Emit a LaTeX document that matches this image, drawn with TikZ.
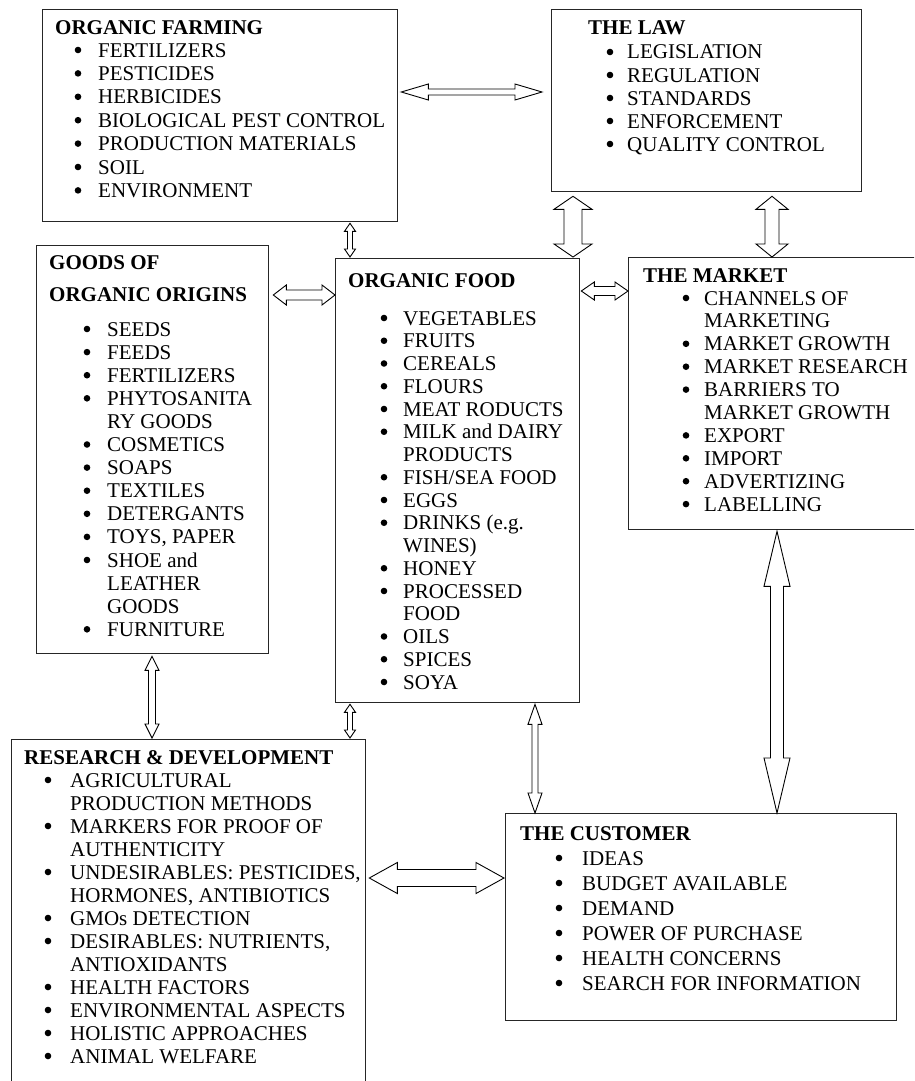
\documentclass[tikz,border=0pt]{standalone}
\usepackage{fontspec}
\setmainfont{Liberation Serif}
\usetikzlibrary{calc}
\tikzset{
  box/.style={draw=black!85, line width=1.3pt, rectangle, inner sep=0pt, anchor=north west},
  txt/.style={inner sep=0pt, anchor=base west, font=\fontsize{21}{23}\selectfont},
  ttl/.style={inner sep=0pt, anchor=base west, font=\fontsize{21}{23}\selectfont\bfseries},
  bul/.style={circle, fill=black, draw=none, inner sep=0pt, minimum size=6.6pt},
  arrowsty/.style={draw=black, fill=white, line width=0.9pt, line join=miter},
}
% double-headed hollow arrow: #1 start, #2 end, #3 half shaft, #4 half head, #5 head length
\newcommand\dblarr[5]{%
  \draw[arrowsty] let \p1=#1, \p2=#2,
    \n1={atan2(\y2-\y1,\x2-\x1)}, \n2={veclen(\x2-\x1,\y2-\y1)} in
    [shift={(\p1)}, rotate=\n1]
    (0pt,0pt) -- (#5pt,#4pt) -- (#5pt,#3pt) -- ({\n2-#5pt},#3pt) -- ({\n2-#5pt},#4pt)
    -- (\n2,0pt) -- ({\n2-#5pt},-#4pt) -- ({\n2-#5pt},-#3pt) -- (#5pt,-#3pt)
    -- (#5pt,-#4pt) -- cycle;}
% bullet list: #1 name prefix, #2 bullet centre x, #3 text x, #4 first baseline, #5 spacing, #6 items
\newcommand\blist[6]{%
  \foreach \fl/\tx [count=\i] in {#6} {
    \node[txt] (#1t\i) at (#3, {#4+(\i-1)*#5}) {\tx};
    \ifnum\fl=1 \node[bul] (#1b\i) at (#2, {#4+(\i-1)*#5-7}) {};\fi
  }}
\begin{document}
\begin{tikzpicture}[x=1pt,y=-1pt]
\useasboundingbox (0,0) rectangle (914,1081);
\clip (0,0) rectangle (914,1081);
\fill[white] (0,0) rectangle (914,1081);

% boxes
\node[box, minimum width=355pt, minimum height=212pt] (farm) at (42,9) {};
\node[box, minimum width=310pt, minimum height=182pt] (law) at (551,9) {};
\node[box, minimum width=232pt, minimum height=408pt] (goods) at (36,245) {};
\node[box, minimum width=244pt, minimum height=444pt] (food) at (335,258) {};
\node[box, minimum width=292pt, minimum height=272pt] (market) at (628,257) {};
\node[box, minimum width=354pt, minimum height=351pt] (rd) at (11,739) {};
\node[box, minimum width=391pt, minimum height=207pt] (cust) at (505,813) {};

% texts
\node[ttl] (farmT) at (55,35) {ORGANIC FARMING};
\blist{farm}{78}{98}{57}{23.4}{1/FERTILIZERS,1/PESTICIDES,1/HERBICIDES,1/BIOLOGICAL PEST CONTROL,1/PRODUCTION MATERIALS,1/SOIL,1/ENVIRONMENT}

\node[ttl] (lawT) at (588,35) {THE LAW};
\blist{law}{610}{627}{59}{23}{1/LEGISLATION,1/REGULATION,1/STANDARDS,1/ENFORCEMENT,1/QUALITY CONTROL}

\node[ttl] (goodsT1) at (49,269) {GOODS OF};
\node[ttl] (goodsT2) at (49,301) {ORGANIC ORIGINS};
\blist{goods}{87}{107}{336}{23.1}{1/SEEDS,1/FEEDS,1/FERTILIZERS,1/PHYTOSANITA,0/RY GOODS,1/COSMETICS,1/SOAPS,1/TEXTILES,1/DETERGANTS,1/{TOYS, PAPER},1/SHOE and,0/LEATHER,0/GOODS,1/FURNITURE}

\node[ttl] (foodT) at (348,287) {ORGANIC FOOD};
\blist{food}{384}{403}{325}{22.75}{1/VEGETABLES,1/FRUITS,1/CEREALS,1/FLOURS,1/MEAT RODUCTS,1/MILK and DAIRY,0/PRODUCTS,1/{FISH/SEA FOOD},1/EGGS,1/DRINKS (e.g.,0/WINES),1/HONEY,1/PROCESSED,0/FOOD,1/OILS,1/SPICES,1/SOYA}

\node[ttl] (marketT) at (643,282) {THE MARKET};
\blist{market}{686}{704}{305}{22.9}{1/CHANNELS OF,0/MARKETING,1/MARKET GROWTH,1/MARKET RESEARCH,1/BARRIERS TO,0/MARKET GROWTH,1/EXPORT,1/IMPORT,1/ADVERTIZING,1/LABELLING}

\node[ttl] (rdT) at (24,764) {RESEARCH \& DEVELOPMENT};
\blist{rd}{48}{70}{787}{23}{1/AGRICULTURAL,0/PRODUCTION METHODS,1/MARKERS FOR PROOF OF,0/AUTHENTICITY,1/{UNDESIRABLES: PESTICIDES,},0/{HORMONES, ANTIBIOTICS},1/GMOs DETECTION,1/{DESIRABLES: NUTRIENTS,},0/ANTIOXIDANTS,1/HEALTH FACTORS,1/ENVIRONMENTAL ASPECTS,1/HOLISTIC APPROACHES,1/ANIMAL WELFARE}

\node[ttl] (custT) at (520,840) {THE CUSTOMER};
\blist{cust}{559}{582}{865}{25}{1/IDEAS,1/BUDGET AVAILABLE,1/DEMAND,1/POWER OF PURCHASE,1/HEALTH CONCERNS,1/SEARCH FOR INFORMATION}

% connectors
\dblarr{($(farm.east |- 0,92)+(3,0)$)}{($(law.west |- 0,92)+(-9,0)$)}{3}{8}{27}
\dblarr{($(farm.south -| 350,0)+(0,1)$)}{($(food.north -| 350,0)+(0,-1)$)}{2.5}{5.5}{8}
\dblarr{($(law.south -| 573,0)+(0,4)$)}{($(food.north -| 573,0)+(0,-1)$)}{9}{19}{13}
\dblarr{($(law.south -| 772,0)+(0,4)$)}{(market.north -| 772,0)}{7}{16}{13}
\dblarr{($(goods.east |- 0,295)+(4,0)$)}{(food.west |- 0,295)}{5}{10}{13}
\dblarr{($(food.east |- 0,291)+(1,0)$)}{(market.west |- 0,291)}{4.5}{9}{13}
\dblarr{($(goods.south -| 152,0)+(0,2)$)}{($(rd.north -| 152,0)+(0,-1)$)}{3.5}{7}{14}
\dblarr{($(food.south -| 350,0)+(0,1)$)}{($(rd.north -| 350,0)+(0,-1)$)}{2.5}{5.5}{8}
\dblarr{($(food.south -| 535,0)+(0,1)$)}{(cust.north -| 535,0)}{3}{7}{20}
\dblarr{($(market.south -| 777,0)+(0,1)$)}{(cust.north -| 777,0)}{6.5}{13}{55}
\dblarr{($(rd.east |- 0,878)+(3,0)$)}{($(cust.west |- 0,878)+(-1,0)$)}{8.5}{15.5}{28}
\end{tikzpicture}
\end{document}
